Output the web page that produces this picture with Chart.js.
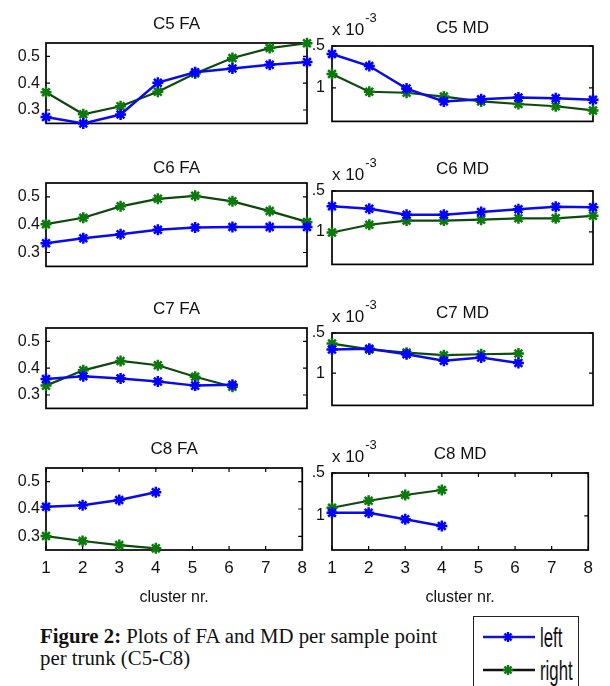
<!doctype html>
<html>
<head>
<meta charset="UTF-8">
<title>FA and MD per sample point per trunk</title>
<script src="https://cdn.jsdelivr.net/npm/chart.js@4.4.0/dist/chart.umd.min.js"></script>
<style>
  body { margin: 0; background: #fff; }
  #page { position: relative; width: 610px; height: 686px; overflow: hidden; background: #fff; }
  #page canvas { position: absolute; }
  .caption { position: absolute; left: 40px; top: 625px; font: 20.8px/22px "Liberation Serif", "Times New Roman", serif; color: #111; white-space: nowrap; }
  .legend { position: absolute; left: 473px; top: 616px; width: 106px; height: 90px; border: 1.3px solid #222; box-sizing: border-box; background: #fff; }
  .legend svg { position: absolute; left: 8px; }
  .legend span { position: absolute; left: 66px; font: 28px/28px "Liberation Sans", sans-serif; transform: scaleX(0.6); transform-origin: left center; color: #111; }
</style>
</head>
<body>
<div id="page">
  <div class="caption"><b>Figure 2:</b> Plots of FA and MD per sample point<br>per trunk (C5-C8)</div>
  <div class="legend">
    <svg width="56" height="16" style="top:12px">
      <line x1="1" y1="8" x2="53" y2="8" stroke="#1414c8" stroke-width="2.5"/>
      <g stroke="#0000ff" stroke-width="2.4"><line x1="21" y1="8" x2="31" y2="8"/><line x1="26" y1="3" x2="26" y2="13"/><line x1="22.5" y1="4.5" x2="29.5" y2="11.5"/><line x1="29.5" y1="4.5" x2="22.5" y2="11.5"/></g>
    </svg>
    <span style="top:7px">left</span>
    <svg width="56" height="16" style="top:45px">
      <line x1="1" y1="8" x2="53" y2="8" stroke="#111" stroke-width="2.5"/>
      <g stroke="#0b7a0b" stroke-width="2.4"><line x1="21" y1="8" x2="31" y2="8"/><line x1="26" y1="3" x2="26" y2="13"/><line x1="22.5" y1="4.5" x2="29.5" y2="11.5"/><line x1="29.5" y1="4.5" x2="22.5" y2="11.5"/></g>
    </svg>
    <span style="top:40px">right</span>
  </div>
</div>

<script>
// cluster numbers along the x axis
var clusters = [1, 2, 3, 4, 5, 6, 7, 8];
var faTicks = [0.3, 0.4, 0.5];
var mdTicks = [1, 1.5];

// FA values (left / right)
var c5FaLeft  = [0.274, 0.250, 0.283, 0.402, 0.441, 0.455, 0.469, 0.479];
var c5FaRight = [0.366, 0.284, 0.314, 0.368, 0.436, 0.494, 0.531, 0.549];
var c6FaLeft  = [0.333, 0.351, 0.366, 0.382, 0.390, 0.392, 0.392, 0.392];
var c6FaRight = [0.402, 0.425, 0.466, 0.493, 0.504, 0.484, 0.449, 0.410];
var c7FaLeft  = [0.360, 0.370, 0.362, 0.350, 0.335, 0.338];
var c7FaRight = [0.335, 0.392, 0.427, 0.411, 0.368, 0.331];
var c8FaLeft  = [0.408, 0.414, 0.433, 0.461];
var c8FaRight = [0.301, 0.283, 0.268, 0.256];

// MD values, x 10^-3
var c5MdLeft  = [1.404, 1.261, 0.992, 0.838, 0.865, 0.885, 0.877, 0.857];
var c5MdRight = [1.165, 0.954, 0.942, 0.896, 0.838, 0.808, 0.781, 0.731];
var c6MdLeft  = [1.314, 1.283, 1.208, 1.208, 1.243, 1.275, 1.307, 1.300];
var c6MdRight = [0.991, 1.086, 1.137, 1.137, 1.148, 1.165, 1.165, 1.196];
var c7MdLeft  = [1.296, 1.304, 1.236, 1.156, 1.196, 1.128];
var c7MdRight = [1.368, 1.296, 1.256, 1.224, 1.236, 1.244];
var c8MdLeft  = [1.036, 1.036, 0.959, 0.880];
var c8MdRight = [1.094, 1.176, 1.243, 1.301];

var SANS = '"Liberation Sans", Arial, sans-serif';

// where each axes box sits on the page
var panels = [
  {title: 'C5 FA', kind: 'fa', l: c5FaLeft, r: c5FaRight, top: 43,  bottom: 125, titleY: 24},
  {title: 'C5 MD', kind: 'md', l: c5MdLeft, r: c5MdRight, top: 46,  bottom: 124, titleY: 28},
  {title: 'C6 FA', kind: 'fa', l: c6FaLeft, r: c6FaRight, top: 183, bottom: 268, titleY: 168},
  {title: 'C6 MD', kind: 'md', l: c6MdLeft, r: c6MdRight, top: 191, bottom: 267, titleY: 169},
  {title: 'C7 FA', kind: 'fa', l: c7FaLeft, r: c7FaRight, top: 328, bottom: 410, titleY: 309},
  {title: 'C7 MD', kind: 'md', l: c7MdLeft, r: c7MdRight, top: 333, bottom: 408, titleY: 313},
  {title: 'C8 FA', kind: 'fa', l: c8FaLeft, r: c8FaRight, top: 468, bottom: 550, titleY: 449, last: true},
  {title: 'C8 MD', kind: 'md', l: c8MdLeft, r: c8MdRight, top: 473, bottom: 550, titleY: 454, last: true}
];

// box + inward tick marks, and the "x 10^-3" note on MD axes
var matlabBox = {
  id: 'matlabBox',
  beforeDatasetsDraw: function(chart) {
    var a = chart.chartArea, ctx = chart.ctx;
    ctx.save();
    ctx.strokeStyle = '#000';
    ctx.lineWidth = 1.7;
    ctx.strokeRect(a.left, a.top, a.right - a.left, a.bottom - a.top);
    ctx.lineWidth = 1.2;
    var ys = chart.scales.y;
    ys.ticks.forEach(function(t) {
      var py = ys.getPixelForValue(t.value);
      ctx.beginPath();
      ctx.moveTo(a.left, py); ctx.lineTo(a.left + 4, py);
      ctx.moveTo(a.right, py); ctx.lineTo(a.right - 4, py);
      ctx.stroke();
    });
    var xs = chart.scales.x;
    if (xs.options.ticks.display) {
      xs.ticks.forEach(function(t, i) {
        var px = xs.getPixelForTick(i);
        ctx.beginPath();
        ctx.moveTo(px, a.bottom); ctx.lineTo(px, a.bottom - 4);
        ctx.moveTo(px, a.top); ctx.lineTo(px, a.top + 4);
        ctx.stroke();
      });
    }
    ctx.restore();
  },
  afterDraw: function(chart, args, opts) {
    if (!opts.exponent) return;
    var a = chart.chartArea, ctx = chart.ctx;
    ctx.save();
    ctx.fillStyle = '#111';
    ctx.textBaseline = 'middle';
    ctx.font = '17px ' + SANS;
    ctx.fillText('x 10', a.left, a.top - 16);
    var w = ctx.measureText('x 10').width;
    ctx.font = '13px ' + SANS;
    ctx.fillText('-3', a.left + w + 1, a.top - 28);
    ctx.restore();
  }
};

panels.forEach(function(p) {
  var isFa = p.kind === 'fa';
  var yW = isFa ? 46 : 22;
  var axisLeft = isFa ? 46 : 332;
  var plotW = 261;
  var padR = 8;
  var bottomSpace = p.last ? 58 : 14;
  var canvasTop = Math.round(p.titleY - 19);
  var padTop = p.titleY - 10.2 - canvasTop;
  var padBottom = p.top - canvasTop - padTop - 20.4;

  var cv = document.createElement('canvas');
  cv.width = yW + plotW + padR;
  cv.height = p.bottom - canvasTop + bottomSpace;
  cv.style.left = (axisLeft - yW) + 'px';
  cv.style.top = canvasTop + 'px';
  document.getElementById('page').appendChild(cv);

  var tickList = isFa ? faTicks : mdTicks;

  new Chart(cv, {
    type: 'line',
    data: {
      labels: clusters.map(String),
      datasets: [
        {label: 'left', data: p.l, borderColor: '#0a0af0', borderWidth: 2.5,
         pointStyle: 'star', pointRadius: 5.5, pointBorderWidth: 2.5,
         pointBorderColor: '#0000ff', pointBackgroundColor: '#0000ff', clip: false},
        {label: 'right', data: p.r, borderColor: '#0d4a0d', borderWidth: 2.2,
         pointStyle: 'star', pointRadius: 5.5, pointBorderWidth: 2.5,
         pointBorderColor: '#0b7a0b', pointBackgroundColor: '#0b7a0b', clip: false}
      ]
    },
    options: {
      responsive: false,
      animation: false,
      layout: {padding: {left: 0, right: padR, top: 0, bottom: 0}},
      plugins: {
        legend: {display: false},
        tooltip: {enabled: false},
        title: {display: true, text: p.title, color: '#111', fullSize: false,
                font: {family: SANS, size: 17, weight: 'normal'},
                padding: {top: padTop, bottom: padBottom}},
        matlabBox: {exponent: !isFa}
      },
      scales: {
        x: {
          type: 'category', offset: false,
          grid: {display: false, drawTicks: false}, border: {display: false},
          ticks: {display: !!p.last, color: '#111', padding: 8, maxRotation: 0, autoSkip: false,
                  font: {family: SANS, size: 17}},
          title: {display: !!p.last, text: 'cluster nr.', color: '#111',
                  font: {family: SANS, size: 16}, padding: {top: 0, bottom: 1}},
          afterFit: function(s) { s.height = bottomSpace; }
        },
        y: {
          type: 'linear',
          min: isFa ? 0.25 : 0.6, max: isFa ? 0.55 : 1.5,
          grid: {display: false, drawTicks: false}, border: {display: false},
          afterBuildTicks: function(s) { s.ticks = tickList.map(function(v) { return {value: v}; }); },
          ticks: {color: '#111', padding: isFa ? 6 : 7, font: {family: SANS, size: 16},
                  callback: function(v) { return isFa ? v.toFixed(1) : (v === 1.5 ? '.5' : String(v)); }},
          afterFit: function(s) { s.width = yW; }
        }
      }
    },
    plugins: [matlabBox]
  });
});
</script>
</body>
</html>
